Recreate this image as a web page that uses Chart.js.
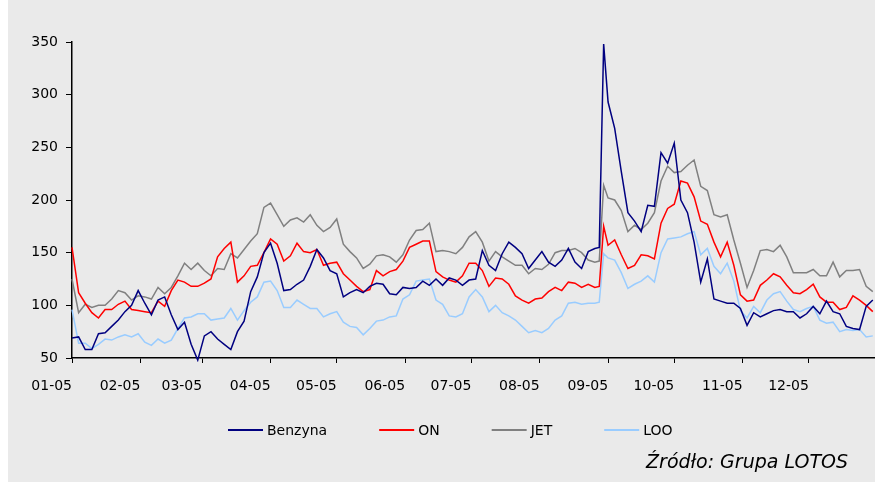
<!DOCTYPE html>
<html>
<head>
<meta charset="utf-8">
<script src="https://cdn.jsdelivr.net/npm/chart.js@4.4.1/dist/chart.umd.min.js"></script>
<style>
  html, body { margin: 0; padding: 0; background: #ffffff; }
  #panel { position: absolute; left: 8px; top: 0; width: 867px; height: 482px; background: #eaeaea; }
  canvas { display: block; }
</style>
</head>
<body>
<div id="panel"><canvas id="chart" width="867" height="482"></canvas></div>
<script>
// Day of year 2005 (0 = 1 January) for each quotation
const days = [
  0, 3, 6, 9, 12, 15, 18, 21, 24, 27, 30, 33, 36, 39, 42, 45, 48, 51, 54, 57,
  60, 63, 66, 69, 72, 75, 78, 81, 84, 87, 90, 93, 96, 99, 102, 105, 108, 111, 114, 117,
  120, 123, 126, 129, 132, 135, 138, 141, 144, 147, 150, 153, 156, 159, 162, 165, 168, 171, 174, 177,
  180, 183, 186, 189, 192, 195, 198, 201, 204, 207, 210, 213, 216, 219, 222, 225, 228, 231, 234, 237,
  239, 241,
  243, 246, 249, 252, 255, 258, 261, 264, 267, 270, 273, 276, 279, 282, 285, 288, 291, 294, 297,
  300, 303, 306, 309, 312, 315, 318, 321, 324, 327, 330, 333, 336, 339, 342, 345, 348, 351, 354, 357, 360, 363
];

const benzyna = [
  69, 70, 58, 58, 73, 74, 80, 86, 94, 100, 114, 102, 91, 105, 108, 91, 77, 84, 63, 48,
  71, 75, 68, 63, 58, 75, 85, 113, 127, 150, 159, 140, 114, 115, 120, 124, 137, 153, 145, 133,
  130, 108, 112, 115, 112, 118, 121, 120, 111, 110, 117, 116, 117, 123, 119, 125, 119, 126, 124, 119,
  124, 125, 152, 138, 133, 149, 160, 155, 149, 135, 143, 151, 141, 137, 143, 154, 141, 135, 151, 154,
  155, 348,
  293, 268, 227, 188, 180, 170, 195, 194, 245, 235, 254, 200, 188, 160, 122, 144, 106, 104, 102,
  102, 97, 81, 93, 89, 92, 95, 96, 94, 94, 88, 92, 99, 92, 104, 94, 92, 80, 78, 77, 99, 105
];

const on = [
  155, 112, 102, 93, 88, 96, 96, 101, 104, 96, 95, 94, 93, 104, 99, 114, 124, 122, 118, 118,
  121, 125, 146, 154, 160, 122, 128, 137, 138, 150, 163, 158, 142, 147, 159, 151, 150, 153, 138, 140,
  141, 130, 124, 118, 113, 115, 133, 128, 132, 134, 142, 155, 158, 161, 161, 132, 127, 124, 122, 128,
  140, 140, 133, 118, 126, 125, 120, 109, 105, 102, 106, 107, 113, 117, 114, 122, 121, 117, 120, 117,
  118, 175,
  157, 162, 148, 135, 138, 148, 147, 144, 178, 192, 196, 218, 216, 203, 180, 177, 160, 146, 160,
  138, 110, 104, 105, 119, 124, 130, 127, 119, 112, 111, 115, 120, 108, 103, 103, 96, 98, 109, 105, 100, 94
];

const jet = [
  125, 93, 101, 98, 100, 100, 106, 114, 112, 105, 109, 108, 106, 117, 111, 117, 128, 140, 134, 140,
  133, 128, 135, 134, 149, 145, 153, 161, 168, 193, 197, 186, 175, 181, 183, 179, 186, 176, 170, 174,
  182, 158, 151, 145, 135, 139, 147, 148, 146, 141, 148, 162, 171, 172, 178, 151, 152, 151, 149, 155,
  165, 170, 160, 142, 151, 146, 142, 138, 138, 130, 135, 134, 139, 150, 152, 152, 154, 150, 143, 141,
  142, 214,
  202, 200, 190, 170, 176, 172, 178, 188, 218, 232, 226, 227, 233, 238, 213, 209, 186, 184, 186,
  162, 140, 117, 133, 152, 153, 151, 157, 146, 131, 131, 131, 134, 128, 128, 141, 127, 133, 133, 134, 118, 113
];

const loo = [
  96, 64, 64, 59, 63, 68, 67, 70, 72, 70, 73, 65, 62, 68, 64, 67, 78, 88, 89, 92,
  92, 86, 87, 88, 97, 86, 95, 103, 108, 122, 123, 114, 98, 98, 105, 101, 97, 97, 89, 92,
  94, 84, 80, 79, 72, 78, 85, 86, 89, 90, 106, 110, 123, 124, 125, 105, 101, 90, 89, 92,
  108, 115, 108, 94, 100, 93, 90, 86, 80, 74, 76, 74, 78, 86, 90, 102, 103, 101, 102, 102,
  103, 149,
  145, 143, 131, 116, 120, 123, 128, 122, 150, 163, 164, 165, 168, 170, 148, 154, 137, 130, 140,
  123, 95, 88, 99, 93, 105, 111, 113, 104, 96, 94, 97, 99, 86, 83, 84, 75, 77, 76, 77, 70, 71
];

// First day of each month and its axis label
const monthStarts = [0, 31, 59, 90, 120, 151, 181, 212, 243, 273, 304, 334];
const monthLabels = ['01-05', '02-05', '03-05', '04-05', '05-05', '06-05',
                     '07-05', '08-05', '09-05', '10-05', '11-05', '12-05'];

const seriesNames = ['Benzyna', 'ON', 'JET', 'LOO'];
const seriesColors = ['#000080', '#ff0000', '#808080', '#99ccff'];
const sourceNote = 'Źródło: Grupa LOTOS';

const FONT = '"DejaVu Sans", Verdana, sans-serif';

function makeSeries(label, values, color) {
  return {
    label,
    data: days.map((d, i) => ({ x: d, y: values[i] })),
    borderColor: color,
    backgroundColor: color,
    borderWidth: 1.5,
    pointRadius: 0,
    pointHoverRadius: 0,
    tension: 0,
    fill: false,
    clip: 4
  };
}

// Legend row with line samples plus the source note, drawn under the axis
const legendAndNote = {
  id: 'legendAndNote',
  afterDraw(chart) {
    const ctx = chart.ctx;
    ctx.save();
    ctx.font = '14px ' + FONT;
    ctx.textBaseline = 'middle';
    ctx.textAlign = 'left';
    let x = 220;
    const y = 430;
    chart.data.datasets.forEach(ds => {
      ctx.strokeStyle = ds.borderColor;
      ctx.lineWidth = 2;
      ctx.beginPath();
      ctx.moveTo(x, y);
      ctx.lineTo(x + 35, y);
      ctx.stroke();
      x += 39;
      ctx.fillStyle = '#000000';
      ctx.fillText(ds.label, x, y + 1);
      x += ctx.measureText(ds.label).width + 52;
    });
    ctx.font = 'italic 19px ' + FONT;
    ctx.textAlign = 'right';
    ctx.fillStyle = '#000000';
    ctx.fillText(sourceNote, 840, 463);
    ctx.restore();
  }
};

new Chart(document.getElementById('chart'), {
  type: 'line',
  data: {
    datasets: [
      makeSeries(seriesNames[0], benzyna, seriesColors[0]),
      makeSeries(seriesNames[1], on, seriesColors[1]),
      makeSeries(seriesNames[2], jet, seriesColors[2]),
      makeSeries(seriesNames[3], loo, seriesColors[3])
    ]
  },
  options: {
    responsive: false,
    animation: false,
    events: [],
    layout: { padding: { top: 42, right: 0, bottom: 0, left: 0 } },
    plugins: {
      legend: { display: false },
      tooltip: { enabled: false }
    },
    scales: {
      x: {
        type: 'linear',
        min: 0,
        max: 364,
        afterBuildTicks: scale => { scale.ticks = monthStarts.map(v => ({ value: v })); },
        afterFit: scale => { scale.height = 124; },
        ticks: {
          align: 'end',
          autoSkip: false,
          maxRotation: 0,
          padding: 15,
          color: '#000000',
          font: { family: FONT, size: 14 },
          callback: value => monthLabels[monthStarts.indexOf(value)]
        },
        grid: { drawOnChartArea: false, drawTicks: true, tickLength: 5, color: '#000000', lineWidth: 1 },
        border: { display: true, color: '#000000', width: 1.5 }
      },
      y: {
        min: 50,
        max: 350,
        afterFit: scale => { scale.width = 64; },
        ticks: {
          stepSize: 50,
          padding: 8,
          color: '#000000',
          font: { family: FONT, size: 14 }
        },
        grid: { drawOnChartArea: false, drawTicks: true, tickLength: 6, color: '#000000', lineWidth: 1 },
        border: { display: true, color: '#000000', width: 1.5 }
      }
    }
  },
  plugins: [legendAndNote]
});
</script>
</body>
</html>
